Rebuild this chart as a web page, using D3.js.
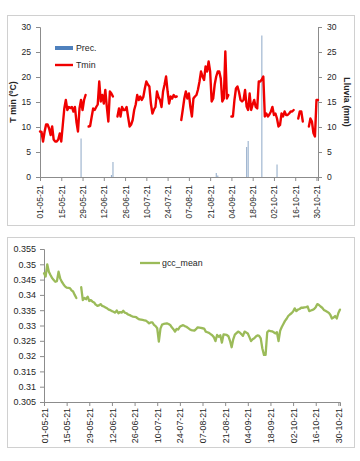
<!DOCTYPE html>
<html>
<head>
<meta charset="utf-8">
<script src="https://cdn.jsdelivr.net/npm/d3@7"></script>
<style>
  html, body { margin: 0; padding: 0; background: #fff; }
  svg { display: block; }
  text { font-family: "Liberation Sans", Arial, sans-serif; fill: #262626; }
</style>
</head>
<body>
<svg id="chart" width="360" height="461"></svg>
<script>
// ---------------- DATA ----------------
const startDate = "2021-05-01"; // first daily value (01-05-21) ... last = 31-10-21

// Daily minimum temperature (ºC), null = missing
const tmin = [
  9.1, 9.0, 7.1, 9.0, 10.5, 10.5, 9.7, 8.4, 10.1, 7.5,
  7.1, 7.1, 7.5, 8.7, 7.1, 10.4, 13.7, 15.4, 13.4, 14.0,
  13.8, 14.0, 13.1, 14.0, 11.0, 9.1, 13.7, 15.4, 13.4, 15.4,
  16.4, null, 10.1, 10.2, 12.0, 13.7, 13.4, 14.0, 14.5, 19.1,
  15.1, 16.4, 14.7, 17.4, 14.0, 11.1, 17.1, 16.7, 16.1, null,
  null, 12.1, 13.7, 12.1, 14.0, 13.4, 13.4, 14.0, 12.0, 10.1,
  10.5, 11.4, 13.4, 14.5, 16.4, 15.4, 16.1, 15.4, 16.0, 17.7,
  19.1, 18.5, 18.1, 14.7, 12.7, 13.5, 14.0, 17.1, 16.0, 15.4,
  14.0, 17.1, 18.5, 20.1, 17.1, 14.7, 16.1, 15.7, 16.4, 16.0,
  16.1, null, null, 11.4, 13.5, 15.7, 17.1, 15.7, 16.7, 14.0,
  12.1, 15.7, 16.1, 16.4, 17.5, 19.1, 21.1, 20.1, 19.4, 22.1,
  21.1, 23.1, 21.1, 15.1, 15.7, 18.5, 20.1, 21.1, 21.1, 19.7,
  15.1, 15.7, 25.1, 15.7, 16.4, null, 12.1, 12.1, 15.4, 17.7,
  18.1, 17.0, 15.4, 15.1, 15.4, 17.4, 14.1, 13.4, 16.7, 13.4,
  14.5, 15.4, 14.0, 13.7, 19.1, 19.1, 19.5, 20.1, 12.1, 12.7,
  12.1, 12.5, 13.1, 14.0, 12.4, 12.7, 11.7, 10.1, 10.4, 12.7,
  12.1, 13.1, 12.4, 12.4, 12.7, 13.1, 13.1, 13.4, null, null,
  11.7, 13.1, 13.1, 11.1, null, null, null, 10.1, 11.7, 11.1,
  8.8, 8.1, 15.4, 15.4
];

// Precipitation events (mm)
const precDates  = ["2021-05-28", "2021-06-17", "2021-06-18", "2021-08-25", "2021-08-26",
                    "2021-09-14", "2021-09-15", "2021-09-24", "2021-10-04"];
const precValues = [7.7, 0.4, 3.0, 0.8, 0.3, 6.0, 7.2, 28.3, 2.5];

// Daily gcc_mean, null = missing
const gcc = [
  0.3471, 0.3460, 0.3500, 0.3476, 0.3465, 0.3455, 0.3449, 0.3443, 0.3445, 0.3476,
  0.3454, 0.3443, 0.3435, 0.3428, 0.3424, 0.3423, 0.3422, 0.3415, 0.3411, 0.3400,
  0.3390, null, null, 0.3425, 0.3383, 0.3390, 0.3386, 0.3394, 0.3380, 0.3383,
  0.3378, 0.3375, 0.3368, 0.3364, 0.3366, 0.3370, 0.3364, 0.3362, 0.3359, 0.3356,
  0.3352, 0.3350, 0.3347, 0.3345, 0.3342, 0.3349, 0.3340, 0.3344, 0.3342, 0.3348,
  0.3342, 0.3340, 0.3336, 0.3334, 0.3331, 0.3329, 0.3328, 0.3327, 0.3323, 0.3320,
  0.3319, 0.3318, 0.3317, 0.3316, 0.3312, 0.3307, 0.3310, 0.3310, 0.3302, 0.3298,
  0.3291, 0.3247, 0.3290, 0.3303, 0.3305, 0.3306, 0.3307, 0.3305, 0.3302, 0.3294,
  0.3288, 0.3280, 0.3289, 0.3287, 0.3296, 0.3299, 0.3301, 0.3298, 0.3296, 0.3292,
  0.3288, 0.3285, 0.3284, 0.3283, 0.3288, 0.3294, 0.3293, 0.3292, 0.3291, 0.3290,
  0.3280, 0.3278, 0.3276, 0.3272, 0.3268, 0.3262, 0.3249, 0.3269, 0.3263, 0.3268,
  0.3244, 0.3271, 0.3270, 0.3269, 0.3265, 0.3250, 0.3229, 0.3255, 0.3270, 0.3275,
  0.3280, 0.3277, 0.3272, 0.3266, 0.3280, 0.3277, 0.3274, 0.3262, 0.3249, 0.3255,
  0.3258, 0.3264, 0.3268, 0.3266, 0.3258, 0.3225, 0.3204, 0.3204, 0.3278, 0.3283,
  0.3282, 0.3281, 0.3278, 0.3274, 0.3278, 0.3249, 0.3283, 0.3295, 0.3305, 0.3315,
  0.3322, 0.3331, 0.3336, 0.3340, 0.3346, 0.3356, 0.3347, 0.3352, 0.3354, 0.3358,
  0.3358, 0.3359, 0.3360, 0.3362, 0.3347, 0.3349, 0.3351, 0.3354, 0.3360, 0.3370,
  0.3367, 0.3362, 0.3358, 0.3351, 0.3348, 0.3345, 0.3342, 0.3335, 0.3323, 0.3326,
  0.3331, 0.3323, 0.3341, 0.3352
];

// Axis tick labels
const dateTickLabels = ["01-05-21", "15-05-21", "29-05-21", "12-06-21", "26-06-21", "10-07-21",
  "24-07-21", "07-08-21", "21-08-21", "04-09-21", "18-09-21", "02-10-21", "16-10-21", "30-10-21"];
const tminTicks = [0, 5, 10, 15, 20, 25, 30];
const precTicks = [0, 5, 10, 15, 20, 25, 30];
const gccTickLabels = ["0.305", "0.31", "0.315", "0.32", "0.325", "0.33", "0.335",
  "0.34", "0.345", "0.35", "0.355"];

// ---------------- HELPERS ----------------
const parseISO = d3.utcParse("%Y-%m-%d");
const parseTick = d3.utcParse("%d-%m-%y");
const fmtTick = d3.utcFormat("%d-%m-%y");
const start = parseISO(startDate);
const dayAt = i => d3.utcDay.offset(start, i);
const endDate = dayAt(tmin.length - 1);
const tickDates = dateTickLabels.map(parseTick);

const svg = d3.select("#chart");
const axisColor = "#8c8c8c";

function styleAxis(g) {
  g.select(".domain").attr("stroke", axisColor).attr("stroke-width", 1);
  g.selectAll(".tick line").attr("stroke", axisColor);
  g.selectAll(".tick text").attr("fill", "#262626");
}

// ---------------- TOP CHART ----------------
svg.append("rect").attr("x", 7.5).attr("y", 15.5).attr("width", 347).attr("height", 210)
  .attr("fill", "#fff").attr("stroke", "#d0d0d0");

const xT = d3.scaleUtc().domain([start, endDate]).range([40, 318]);
const yT = d3.scaleLinear().domain([0, 30]).range([177, 27]);
const yP = d3.scaleLinear().domain([0, 30]).range([177, 27]);

// precipitation bars
svg.append("g").selectAll("rect")
  .data(precDates.map((d, i) => ({ date: parseISO(d), v: precValues[i] })))
  .join("rect")
  .attr("x", d => xT(d.date) - 0.5)
  .attr("width", 1.1)
  .attr("y", d => yP(d.v))
  .attr("height", d => yP(0) - yP(d.v))
  .attr("fill", "#98b0cc");

// axes
const gLT = svg.append("g").attr("transform", "translate(40,0)")
  .call(d3.axisLeft(yT).tickValues(tminTicks).tickSize(4).tickPadding(5))
  .style("font-size", "8.6px");
styleAxis(gLT);

const gRT = svg.append("g").attr("transform", "translate(318,0)")
  .call(d3.axisRight(yP).tickValues(precTicks).tickSize(4).tickPadding(5))
  .style("font-size", "8.6px");
styleAxis(gRT);

const gBT = svg.append("g").attr("transform", "translate(0,177)")
  .call(d3.axisBottom(xT).tickValues(tickDates).tickFormat(fmtTick).tickSize(4))
  .style("font-size", "8.4px");
styleAxis(gBT);
gBT.selectAll(".tick text")
  .attr("transform", "rotate(-90)")
  .attr("text-anchor", "end")
  .attr("x", -8).attr("y", 0).attr("dy", "0.35em");

// Tmin line
const lineT = d3.line()
  .defined(d => d != null)
  .x((d, i) => xT(dayAt(i)))
  .y(d => yT(d));
svg.append("path").datum(tmin)
  .attr("d", lineT)
  .attr("fill", "none").attr("stroke", "#f00000")
  .attr("stroke-width", 2.4).attr("stroke-linejoin", "round").attr("stroke-linecap", "round");

// axis titles
svg.append("text").attr("transform", "translate(16,102) rotate(-90)")
  .attr("text-anchor", "middle").style("font-size", "8.8px").style("font-weight", "bold")
  .text("T min (ºC)");
svg.append("text").attr("transform", "translate(344,102) rotate(90)")
  .attr("text-anchor", "middle").style("font-size", "8.8px").style("font-weight", "bold")
  .text("Lluvia (mm)");

// legend top
svg.append("rect").attr("x", 55).attr("y", 46).attr("width", 18).attr("height", 4).attr("fill", "#4f81bd");
svg.append("text").attr("x", 76).attr("y", 51).style("font-size", "8.8px").text("Prec.");
svg.append("line").attr("x1", 55).attr("x2", 73).attr("y1", 65).attr("y2", 65)
  .attr("stroke", "#f00000").attr("stroke-width", 2.4);
svg.append("text").attr("x", 76).attr("y", 68).style("font-size", "8.8px").text("Tmin");

// ---------------- BOTTOM CHART ----------------
svg.append("rect").attr("x", 7.5).attr("y", 237.5).attr("width", 347).attr("height", 210)
  .attr("fill", "#fff").attr("stroke", "#d0d0d0");

const gccTicks = gccTickLabels.map(Number);
const xB = d3.scaleUtc().domain([start, endDate]).range([44, 340]);
const yB = d3.scaleLinear().domain([0.305, 0.355]).range([402, 249]);

const gLB = svg.append("g").attr("transform", "translate(44,0)")
  .call(d3.axisLeft(yB).tickValues(gccTicks)
    .tickFormat((d, i) => gccTickLabels[i]).tickSize(4).tickPadding(4))
  .style("font-size", "9px");
styleAxis(gLB);

const gBB = svg.append("g").attr("transform", "translate(0,402)")
  .call(d3.axisBottom(xB).tickValues(tickDates).tickFormat(fmtTick).tickSize(4))
  .style("font-size", "8.8px");
styleAxis(gBB);
gBB.selectAll(".tick text")
  .attr("transform", "rotate(-90)")
  .attr("text-anchor", "end")
  .attr("x", -6).attr("y", 0).attr("dy", "0.35em");

const lineB = d3.line()
  .defined(d => d != null)
  .x((d, i) => xB(dayAt(i)))
  .y(d => yB(d));
svg.append("path").datum(gcc)
  .attr("d", lineB)
  .attr("fill", "none").attr("stroke", "#9bbb59")
  .attr("stroke-width", 2.3).attr("stroke-linejoin", "round").attr("stroke-linecap", "round");

// legend bottom
svg.append("line").attr("x1", 140).attr("x2", 160).attr("y1", 263).attr("y2", 263)
  .attr("stroke", "#9bbb59").attr("stroke-width", 2.3);
svg.append("text").attr("x", 162).attr("y", 266).style("font-size", "8.8px").text("gcc_mean");
</script>
</body>
</html>
